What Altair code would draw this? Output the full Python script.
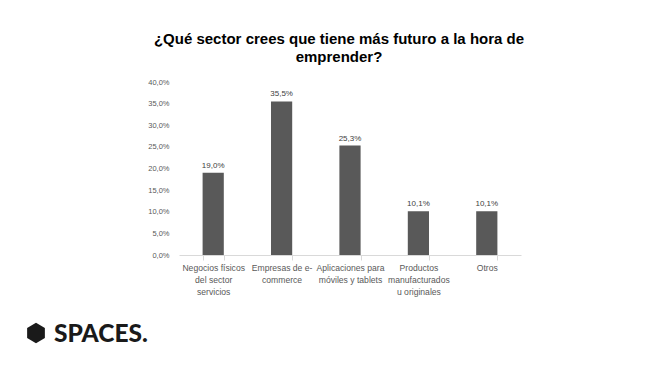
import altair as alt
import pandas as pd

categories = [
    "Negocios físicos\ndel sector\nservicios",
    "Empresas de e-\ncommerce",
    "Aplicaciones para\nmóviles y tablets",
    "Productos\nmanufacturados\nu originales",
    "Otros",
]
values = [0.190, 0.355, 0.253, 0.101, 0.101]
y_ticks = [0, 0.05, 0.10, 0.15, 0.20, 0.25, 0.30, 0.35, 0.40]
title_lines = ["¿Qué sector crees que tiene más futuro a la hora de", "emprender?"]
logo_text = ["SPACES."]

df = pd.DataFrame({
    "cat": categories,
    "val": values,
    "lbl": [f"{v*100:.1f}%".replace(".", ",") for v in values],
})

gray = "#595959"
x = alt.X("cat:N", sort=categories, title=None,
          scale=alt.Scale(paddingInner=0.69, paddingOuter=0.345),
          axis=alt.Axis(labelAngle=0, labelExpr="split(datum.label, '\\n')",
                        labelColor=gray, labelFont="Liberation Sans", labelFontSize=8.6,
                        labelLineHeight=12, labelPadding=3,
                        domainColor="#d9d9d9", tickColor="#d9d9d9", tickBand="extent",
                        tickSize=5, labelLimit=200))
y = alt.Y("val:Q", title=None,
          scale=alt.Scale(domain=[0, 0.40]),
          axis=alt.Axis(values=y_ticks, grid=False, domain=False, ticks=False,
                        labelExpr="replace(format(datum.value, '.1%'), '.', ',')",
                        labelColor=gray, labelFont="Liberation Sans", labelFontSize=7.5,
                        labelPadding=10))

bars = alt.Chart(df).mark_bar(color=gray).encode(x=x, y=y)
text = alt.Chart(df).mark_text(dy=-7, fontSize=8, color="#404040", font="Liberation Sans").encode(
    x=x, y=y, text="lbl:N")

logo_df = pd.DataFrame({"t": logo_text})
hexagon = alt.Chart(logo_df).mark_point(
    shape="M0,-1L0.866,-0.5L0.866,0.5L0,1L-0.866,0.5L-0.866,-0.5Z",
    filled=True, color="#1a1a1a", size=420, opacity=1
).encode(x=alt.value(-143), y=alt.value(251))
logo = alt.Chart(logo_df).mark_text(
    align="left", baseline="alphabetic", font="Lato", fontWeight=900, fontSize=24.5,
    color="#1a1a1a"
).encode(x=alt.value(-125), y=alt.value(260), text="t:N")

chart = alt.layer(bars, text, hexagon, logo).properties(
    width=342, height=173,
    autosize=alt.AutoSizeParams(type="none"),
    padding={"left": 171, "top": 74, "right": 121, "bottom": 103},
    title=alt.TitleParams(title_lines, font="Liberation Sans", fontSize=15, fontWeight="bold",
                          color="#000000", anchor="middle", dx=-11, offset=13, lineHeight=18),
).configure_view(stroke=None)

chart.save("out.html", embed_options={"renderer": "svg", "actions": False})
